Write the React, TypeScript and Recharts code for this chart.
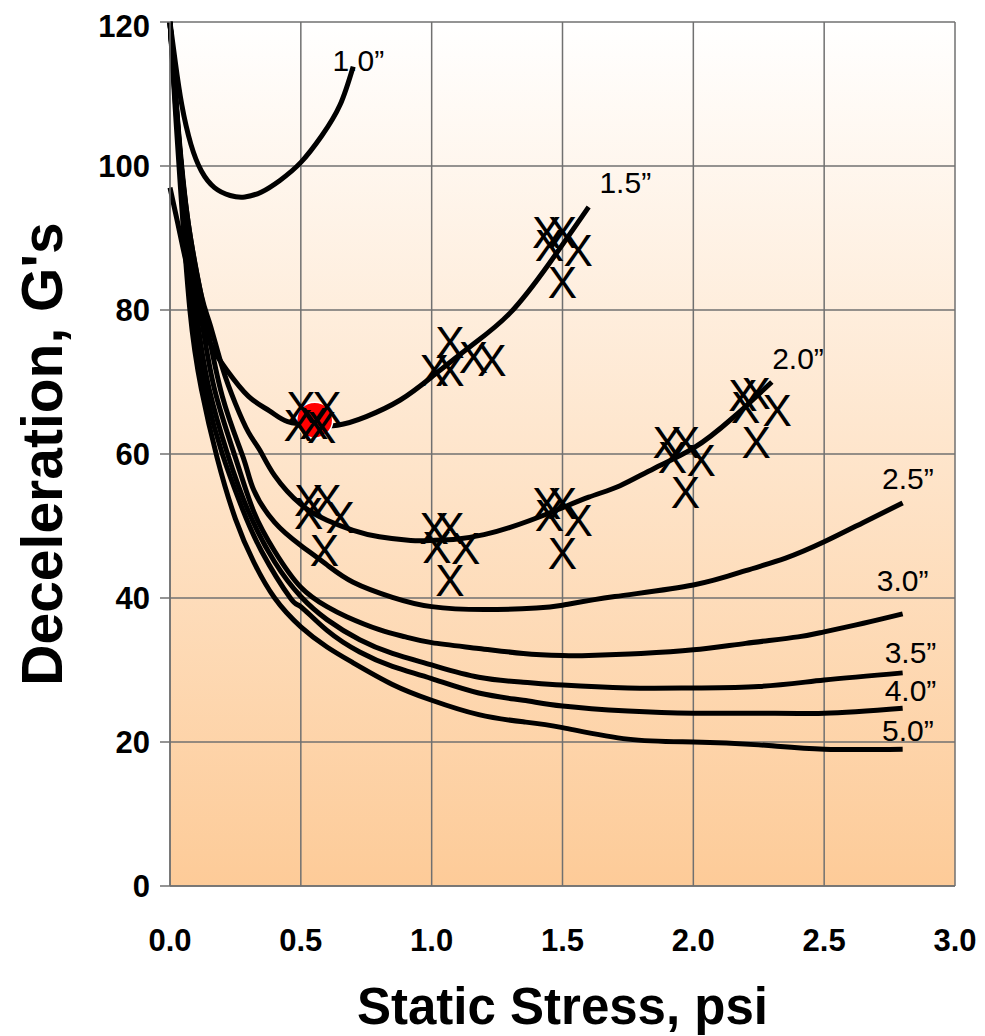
import React from "react";
import { CartesianGrid, ComposedChart, Line, Scatter, XAxis, YAxis } from "recharts";

const xTicks = [0, 0.5, 1, 1.5, 2, 2.5, 3];
const yTicks = [0, 20, 40, 60, 80, 100, 120];

// curve values: [static stress, deceleration]
const curve10: [number, number][] = [
  [0, 120], [0.02, 114.5], [0.045, 108.5], [0.08, 103], [0.12, 99.3], [0.17, 97], [0.23, 95.9],
  [0.286, 95.7], [0.35, 96.4], [0.42, 98], [0.5, 100.5], [0.58, 104.2], [0.65, 108.5], [0.7, 113.8],
];
const curve15: [number, number][] = [
  [0, 97], [0.03, 92], [0.057, 87.4], [0.1, 81], [0.153, 75.4], [0.216, 71.7], [0.3, 68], [0.38, 66],
  [0.45, 64.5], [0.55, 64], [0.64, 64], [0.75, 65.2], [0.88, 67.5], [1.0, 70.7], [1.15, 75],
  [1.3, 79.6], [1.45, 86.5], [1.6, 94.3],
];
const curve20: [number, number][] = [
  [0, 120], [0.03, 105], [0.07, 92], [0.12, 82], [0.153, 78], [0.2, 72], [0.25, 67], [0.3, 63],
  [0.344, 60.5], [0.4, 57], [0.5, 53], [0.6, 50.8], [0.7, 49.4], [0.8, 48.5], [0.92, 48], [1.0, 48],
  [1.1, 48.2], [1.2, 48.8], [1.3, 49.8], [1.45, 51.8], [1.6, 54], [1.72, 55.6], [1.85, 58],
  [2.0, 60.8], [2.15, 65], [2.3, 70],
];
const curve25: [number, number][] = [
  [0, 120], [0.03, 106], [0.07, 92], [0.13, 80], [0.2, 68], [0.28, 59.5], [0.32, 55], [0.4, 50.5],
  [0.5, 47.3], [0.6, 44.6], [0.7, 42.2], [0.85, 40.1], [1.0, 38.8], [1.2, 38.4], [1.4, 38.6],
  [1.5, 39], [1.7, 40.2], [2.0, 41.8], [2.2, 43.8], [2.35, 45.5], [2.5, 47.8], [2.65, 50.5], [2.8, 53.2],
];
const curve30: [number, number][] = [
  [0, 120], [0.025, 108], [0.06, 94], [0.115, 80], [0.17, 69], [0.25, 59.5], [0.32, 52], [0.4, 46.5],
  [0.5, 41.5], [0.6, 38.8], [0.675, 37.4], [0.8, 35.6], [0.9, 34.6], [1.0, 33.8], [1.18, 33],
  [1.35, 32.3], [1.5, 32], [1.6, 32], [1.8, 32.3], [2.0, 32.8], [2.2, 33.7], [2.4, 34.6], [2.5, 35.3],
  [2.65, 36.5], [2.8, 37.8],
];
const curve35: [number, number][] = [
  [0, 120], [0.02, 110], [0.05, 97], [0.1, 80], [0.15, 69], [0.22, 60], [0.3, 52], [0.4, 45],
  [0.5, 40.2], [0.6, 37], [0.725, 34.2], [0.85, 32.3], [1.0, 30.7], [1.18, 29], [1.35, 28.3],
  [1.5, 27.9], [1.75, 27.5], [2.0, 27.5], [2.25, 27.7], [2.5, 28.6], [2.8, 29.6],
];
const curve40: [number, number][] = [
  [0, 120], [0.02, 109], [0.045, 98], [0.088, 80], [0.14, 68], [0.2, 60], [0.27, 53], [0.35, 46.5],
  [0.46, 40], [0.5, 38.8], [0.6, 35.5], [0.725, 32.5], [0.85, 30.5], [1.0, 28.8], [1.18, 26.8],
  [1.35, 25.8], [1.5, 25], [1.75, 24.3], [2.0, 24], [2.25, 24], [2.5, 24], [2.8, 24.7],
];
const curve50: [number, number][] = [
  [0, 120], [0.02, 108], [0.04, 97], [0.076, 80], [0.12, 69], [0.18, 59.5], [0.25, 51], [0.32, 45],
  [0.4, 40], [0.5, 36], [0.6, 33.2], [0.7, 31], [0.85, 28], [1.0, 25.8], [1.18, 23.8], [1.35, 22.8],
  [1.5, 22], [1.75, 20.4], [2.0, 20], [2.25, 19.6], [2.5, 19], [2.8, 19],
];

const curves = [curve10, curve15, curve20, curve25, curve30, curve35, curve40, curve50];

const labelNames = ["1.0\u201d", "1.5\u201d", "2.0\u201d", "2.5\u201d", "3.0\u201d", "3.5\u201d", "4.0\u201d", "5.0\u201d"];
const labelX = [0.72, 1.74, 2.4, 2.82, 2.8, 2.83, 2.83, 2.82];
const labelY = [114.7, 97.8, 73.3, 56.7, 42.5, 32.5, 27.2, 21.7];

// measured test points (X marks)
const crossX = [
  0.5, 0.6, 0.49, 0.55, 0.58,
  0.53, 0.6, 0.53, 0.65, 0.59,
  1.07, 1.01, 1.07, 1.16, 1.23,
  1.01, 1.07, 1.02, 1.13, 1.07,
  1.44, 1.5, 1.45, 1.56, 1.5,
  1.44, 1.5, 1.45, 1.56, 1.5,
  1.9, 1.97, 1.92, 2.03, 1.97,
  2.19, 2.24, 2.2, 2.32, 2.24,
];
const crossY = [
  66.5, 66.5, 64, 64.3, 63.8,
  53.6, 53.6, 51.8, 51.3, 46.7,
  75.6, 71.7, 71.7, 73.5, 73,
  49.7, 49.7, 47.1, 46.9, 42.5,
  90.8, 90.8, 89, 88.3, 83.9,
  53.2, 53.2, 51.5, 50.8, 46.3,
  61.7, 61.7, 59.6, 59.2, 54.7,
  68.2, 68.5, 66.5, 66.1, 61.7,
];
const redX = [0.553];
const redY = [64.7];

const toPts = (c: [number, number][]) => c.map(([x, y]) => ({ x, y }));
const crossData = crossX.map((x, i) => ({ x, y: crossY[i] }));
const redData = redX.map((x, i) => ({ x, y: redY[i] }));
const labelData = labelX.map((x, i) => ({ x, y: labelY[i], name: labelNames[i] }));

const FONT = "Arial, 'Liberation Sans', Helvetica, sans-serif";

const CrossShape = (p: any) => (
  <text x={p.cx} y={p.cy + 16} textAnchor="middle" fontSize={44} fontFamily={FONT} fill="#000">
    X
  </text>
);

const RedDot = (p: any) => <circle cx={p.cx} cy={p.cy} r={18} fill="#FF0000" stroke="#fff" strokeWidth={1.5} />;

const CurveLabel = (p: any) => (
  <text x={p.cx} y={p.cy + 11} textAnchor="middle" fontSize={30} fontFamily={FONT} fill="#000">
    {p.payload.name}
  </text>
);

export default function App() {
  return (
    <div style={{ width: 977, height: 1028 }}>
      <ComposedChart width={977} height={1028} margin={{ top: 14, right: 30, left: 92, bottom: 90 }}>
        <defs>
          <linearGradient id="bg" x1="0" y1="0" x2="0" y2="1">
            <stop offset="0%" stopColor="#FFFFFF" />
            <stop offset="100%" stopColor="#FDCB98" />
          </linearGradient>
        </defs>
        <CartesianGrid stroke="#707070" strokeWidth={1.5} fill="url(#bg)" />
        <XAxis
          dataKey="x"
          type="number"
          domain={[0, 3]}
          ticks={xTicks}
          height={60}
          tickFormatter={(v: number) => v.toFixed(1)}
          tick={{ fontSize: 31, fontWeight: 700, fill: "#000", fontFamily: FONT }}
          tickLine={false}
          tickSize={0}
          tickMargin={43}
          axisLine={{ stroke: "#707070", strokeWidth: 1.5 }}
          label={({ viewBox }: any) => (
            <text
              x={viewBox.x + viewBox.width / 2}
              y={viewBox.y + 138}
              textAnchor="middle"
              fontSize={51}
              fontWeight={700}
              fontFamily={FONT}
              fill="#000"
            >
              Static Stress, psi
            </text>
          )}
        />
        <YAxis
          type="number"
          domain={[0, 120]}
          ticks={yTicks}
          width={70}
          tick={{ fontSize: 31, fontWeight: 700, fill: "#000", fontFamily: FONT }}
          tickSize={10}
          tickMargin={10}
          tickLine={{ stroke: "#707070", strokeWidth: 1.5 }}
          axisLine={{ stroke: "#707070", strokeWidth: 1.5 }}
          label={({ viewBox }: any) => {
            const cx = viewBox.x - 58;
            const cy = viewBox.y + viewBox.height / 2;
            return (
              <text
                x={cx}
                y={cy}
                transform={`rotate(-90 ${cx} ${cy})`}
                textAnchor="middle"
                dominantBaseline="central"
                fontSize={57}
                fontWeight={700}
                fontFamily={FONT}
                fill="#000"
              >
                Deceleration, G's
              </text>
            );
          }}
        />
        {curves.map((c, i) => (
          <Line
            key={i}
            data={toPts(c)}
            dataKey="y"
            type="natural"
            stroke="#000"
            strokeWidth={5}
            dot={false}
            activeDot={false}
            isAnimationActive={false}
          />
        ))}
        <Scatter data={redData} dataKey="y" shape={RedDot} isAnimationActive={false} />
        <Scatter data={crossData} dataKey="y" shape={CrossShape} isAnimationActive={false} />
        <Scatter data={labelData} dataKey="y" shape={CurveLabel} isAnimationActive={false} />
      </ComposedChart>
    </div>
  );
}
